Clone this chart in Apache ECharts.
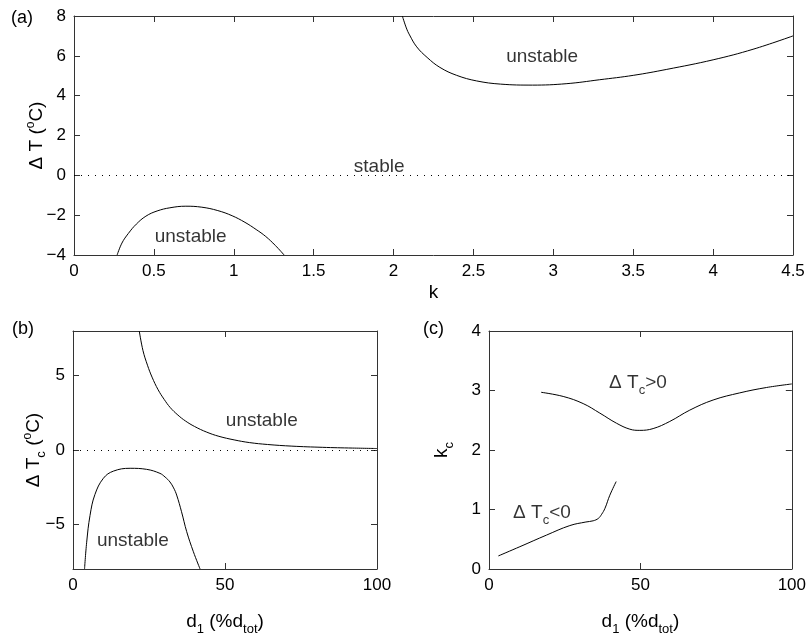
<!DOCTYPE html>
<html>
<head>
<meta charset="utf-8">
<script src="https://cdn.jsdelivr.net/npm/echarts@6/dist/echarts.min.js"></script>
<style>
html,body{margin:0;padding:0;background:#fff;}
#c{width:809px;height:637px;}
</style>
</head>
<body>
<div id="c"></div>
<script>
// ---------- data ----------
// Panel (a): Delta T vs k
const aLower = [[0.27,-4],[0.3,-3.4],[0.34,-2.92],[0.39,-2.45],[0.45,-2.05],[0.52,-1.79],[0.6,-1.63],[0.7,-1.55],[0.8,-1.6],[0.9,-1.77],[0.99,-2.03],[1.07,-2.36],[1.14,-2.72],[1.2,-3.07],[1.26,-3.52],[1.315,-4]];
const aUpper = [[2.055,8],[2.08,7.4],[2.1,7.05],[2.145,6.45],[2.21,5.92],[2.29,5.42],[2.395,5.02],[2.52,4.74],[2.67,4.58],[2.87,4.53],[3.08,4.6],[3.29,4.8],[3.5,5.02],[3.71,5.32],[4.0,5.8],[4.25,6.33],[4.5,7.0]];
// Panel (b): Delta Tc vs d1
const bUpper = [[21.8,8],[23,6.7],[24.5,5.7],[26,4.9],[28,4.05],[30,3.4],[32,2.85],[34.5,2.35],[37,1.95],[40,1.58],[44,1.2],[48,0.92],[53,0.68],[58,0.5],[64,0.37],[72,0.26],[82,0.18],[92,0.13],[100,0.1]];
const bLower = [[3.8,-8],[4.5,-6.2],[5.6,-4.4],[7.2,-3.0],[10,-1.9],[13.3,-1.42],[18.8,-1.23],[24.2,-1.3],[28.6,-1.57],[30.3,-1.82],[31.9,-2.15],[33.1,-2.55],[34.1,-3.03],[35.7,-4.15],[37.4,-5.49],[39.6,-6.84],[41.8,-8]];
// Panel (c): kc vs d1
const cUpper = [[17.2,2.97],[24.5,2.9],[31.1,2.78],[36.6,2.62],[42.1,2.45],[46.5,2.35],[49.8,2.33],[54.2,2.36],[59.7,2.48],[66.3,2.67],[74,2.84],[82.8,2.96],[91.6,3.05],[100,3.11]];
const cLower = [[3.1,0.22],[10.2,0.375],[19,0.57],[26.7,0.73],[32,0.79],[34.4,0.81],[36.1,0.85],[37.2,0.92],[38.3,1.02],[39.9,1.24],[42,1.47]];
// annotations
const aNotes = [[0.73,-3.08,'unstable'],[1.91,0.43,'stable'],[2.93,5.96,'unstable']];
const bNotes = [[62.1,1.95,'unstable'],[19.7,-6.1,'unstable']];
const cNotes = [[49.2,3.13,'{m|Δ T}{s|c}{m|>0}'],[17.5,0.95,'{m|Δ T}{s|c}{m|<0}']];
// tick values
const bYTicks = [-5,0,5];

// ---------- style ----------
const FONT = 'Liberation Sans, Arial, Helvetica, sans-serif';
const AX = '#333';
const rich = {
  m:{fontSize:19,fontFamily:FONT,color:'#000'},
  s:{fontSize:13,fontFamily:FONT,color:'#000',padding:[16,0,0,0]},
  p:{fontSize:12,fontFamily:FONT,color:'#000',padding:[0,0,12,0]}
};
const fmt = v => String(v).replace('-', '\u2212');

function xAx(grid, min, max, interval, name, gap, show){
  return {
    type:'value', gridIndex:grid, min:min, max:max, interval:interval,
    position: show ? 'bottom' : 'top',
    name: show ? name : '', nameLocation:'middle', nameGap:gap,
    nameTextStyle:{rich:rich},
    axisLine:{show:true, onZero:false, lineStyle:{color:AX,width:1}},
    axisTick:{show:true, inside:true, length:6, lineStyle:{color:AX}},
    axisLabel:{show:show, fontSize:17, fontFamily:FONT, color:'#000', margin:8, formatter:fmt},
    splitLine:{show:false}
  };
}
function yAx(grid, min, max, interval, name, gap, show, custom){
  const o = {
    type:'value', gridIndex:grid, min:min, max:max,
    position: show ? 'left' : 'right',
    name: show ? name : '', nameLocation:'middle', nameGap:gap, nameRotate:90,
    nameMoveOverlap:false,
    nameTextStyle:{rich:rich},
    axisLine:{show:true, onZero:false, lineStyle:{color:AX,width:1}},
    axisTick:{show:true, inside:true, length:6, lineStyle:{color:AX}},
    axisLabel:{show:show, fontSize:17, fontFamily:FONT, color:'#000', margin:8, formatter:fmt},
    splitLine:{show:false}
  };
  if (custom){
    o.axisTick.customValues = custom;
    o.axisLabel.customValues = custom;
  } else {
    o.interval = interval;
  }
  return o;
}
function curve(xi, yi, data, zero){
  const s = {
    type:'line', xAxisIndex:xi, yAxisIndex:yi, data:data, smooth:0.4,
    symbol:'none', silent:true, clip:true,
    lineStyle:{color:'#000', width:1}
  };
  if (zero){
    s.markLine = {silent:true, symbol:['none','none'], label:{show:false},
      lineStyle:{color:'#000', width:1, type:[1,6]}, data:[{yAxis:0}]};
  }
  return s;
}
function notes(xi, yi, arr){
  return {
    type:'scatter', xAxisIndex:xi, yAxisIndex:yi, silent:true, symbolSize:1,
    itemStyle:{color:'transparent'},
    data: arr.map(d => ({value:[d[0],d[1]], label:{formatter:d[2]}})),
    label:{show:true, position:'inside', fontSize:19, fontFamily:FONT, color:'#000', rich:rich}
  };
}

const chart = echarts.init(document.getElementById('c'), null, {renderer:'canvas'});
chart.setOption({
  animation:false,
  backgroundColor:'#fff',
  grid:[
    {left:74, top:16, width:719, height:239},
    {left:73, top:331, width:304, height:238},
    {left:489, top:331, width:303, height:238}
  ],
  xAxis:[
    xAx(0,0,4.5,0.5,'{m|k}',28,true),
    xAx(0,0,4.5,0.5,'',0,false),
    xAx(1,0,100,50,'{m|d}{s|1}{m| (%d}{s|tot}{m|)}',38,true),
    xAx(1,0,100,50,'',0,false),
    xAx(2,0,100,50,'{m|d}{s|1}{m| (%d}{s|tot}{m|)}',38,true),
    xAx(2,0,100,50,'',0,false)
  ],
  yAxis:[
    yAx(0,-4,8,2,'{m|Δ T (}{p|o}{m|C)}',25,true),
    yAx(0,-4,8,2,'',0,false),
    yAx(1,-8,8,5,'{m|Δ T}{s|c}{m| (}{p|o}{m|C)}',25,true,bYTicks),
    yAx(1,-8,8,5,'',0,false,bYTicks),
    yAx(2,0,4,1,'{m|k}{s|c}',33,true),
    yAx(2,0,4,1,'',0,false)
  ],
  graphic:[
    {type:'text', left:11, top:9, style:{text:'(a)', fontSize:18, fontFamily:FONT, fill:'#000'}},
    {type:'text', left:12, top:320, style:{text:'(b)', fontSize:18, fontFamily:FONT, fill:'#000'}},
    {type:'text', left:423, top:320, style:{text:'(c)', fontSize:18, fontFamily:FONT, fill:'#000'}}
  ],
  series:[
    curve(0,0,aLower,true),
    curve(0,0,aUpper,false),
    curve(2,2,bUpper,true),
    curve(2,2,bLower,false),
    curve(4,4,cUpper,false),
    curve(4,4,cLower,false),
    notes(0,0,aNotes),
    notes(2,2,bNotes),
    notes(4,4,cNotes)
  ]
});
</script>
</body>
</html>
